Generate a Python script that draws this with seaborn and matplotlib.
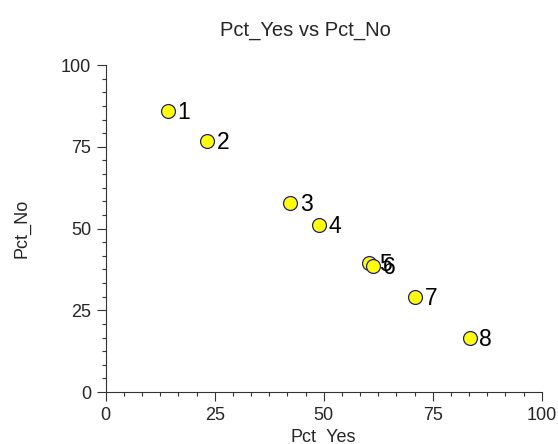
import matplotlib
matplotlib.use("Agg")
import matplotlib.pyplot as plt
from matplotlib.ticker import AutoMinorLocator, MultipleLocator
import pandas as pd
import seaborn as sns

# values
row_ids = ["1", "2", "3", "4", "5", "6", "7", "8"]
pct_yes = [14.2, 23.2, 42.3, 48.9, 60.5, 61.4, 71.0, 83.5]
pct_no = [85.8, 76.8, 57.7, 51.1, 39.5, 38.6, 29.0, 16.5]

df = pd.DataFrame({"Pct_Yes": pct_yes, "Pct_No": pct_no, "Row": row_ids})

sns.set_style("ticks")
plt.rcParams["font.family"] = ["Liberation Sans", "DejaVu Sans"]

fig = plt.figure(figsize=(5.58, 4.44), dpi=100)
ax = fig.add_axes([0.1894, 0.1171, 0.7814, 0.7365])

sns.scatterplot(data=df, x="Pct_Yes", y="Pct_No", ax=ax, s=100,
                color="#FFFF00", edgecolor="#1F1F7A", linewidth=0.9, zorder=3)

# row numbers next to each point (5 and 6 overlap in the original too)
for _, r in df.iterrows():
    ax.annotate(r["Row"], (r["Pct_Yes"], r["Pct_No"]), xytext=(7, -1),
                textcoords="offset points", ha="left", va="center",
                fontsize=16.5, color="black", zorder=4)

ax.set_xlim(0, 100)
ax.set_ylim(0, 100)
ax.xaxis.set_major_locator(MultipleLocator(25))
ax.yaxis.set_major_locator(MultipleLocator(25))
ax.xaxis.set_minor_locator(AutoMinorLocator(6))
ax.yaxis.set_minor_locator(AutoMinorLocator(6))
ax.tick_params(which="major", length=6.5, width=0.8, color="#333333",
               labelsize=13, pad=4)
ax.tick_params(which="minor", length=3.2, width=0.8, color="#333333")
for side in ["left", "bottom"]:
    ax.spines[side].set_color("#333333")
    ax.spines[side].set_linewidth(0.8)
sns.despine(ax=ax)

ax.set_xlabel("Pct_Yes", fontsize=13, labelpad=4)
ax.set_ylabel("Pct_No", fontsize=13, labelpad=22)
fig.text(0.547, 0.932, "Pct_Yes vs Pct_No", ha="center", va="center",
         fontsize=14.5)

fig.savefig("out.png", dpi=100)
